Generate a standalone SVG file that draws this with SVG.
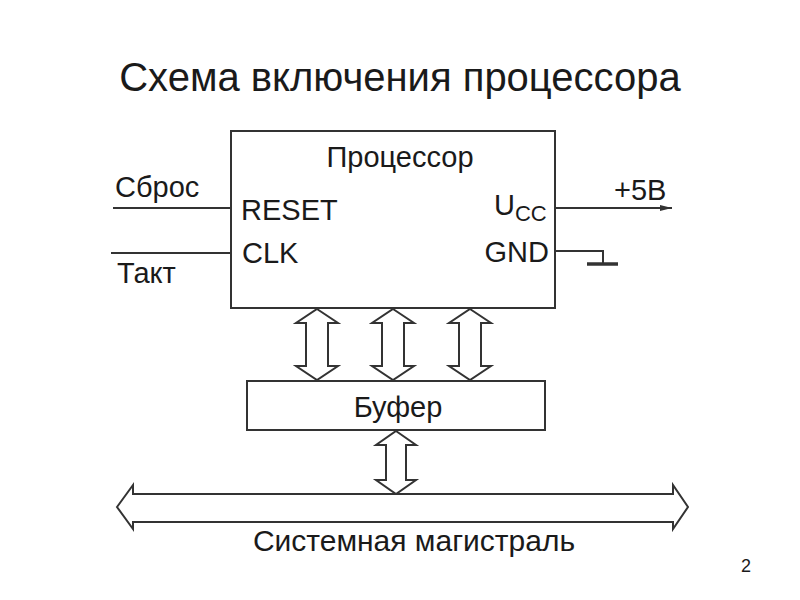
<svg xmlns="http://www.w3.org/2000/svg" width="800" height="600" viewBox="0 0 800 600">
<defs>
<style>
text{font-family:"Liberation Sans",Arial,sans-serif;fill:#1a1a1a}
.lbl{font-size:29px}
.box{fill:#fff;stroke:#333;stroke-width:2}
.wire{fill:none;stroke:#333;stroke-width:2}
.blk{fill:#fff;stroke:#333;stroke-width:2;stroke-linejoin:miter}
</style>
<marker id="ah" viewBox="0 0 12 8" refX="12" refY="4" markerWidth="12" markerHeight="8" markerUnits="userSpaceOnUse" orient="auto">
<path d="M0,1 L12,4 L0,7 Z" fill="#333"/>
</marker>
</defs>
<rect width="800" height="600" fill="#fff"/>
<text x="400" y="91" font-size="40" text-anchor="middle">Схема включения процессора</text>

<g id="processor">
<rect class="box" x="231" y="131" width="324" height="177"/>
<text class="lbl" x="400" y="167" text-anchor="middle">Процессор</text>
<text class="lbl" x="241" y="220">RESET</text>
<text class="lbl" x="242" y="263">CLK</text>
<text class="lbl" x="494" y="215">U<tspan font-size="22" dy="6">CC</tspan></text>
<text class="lbl" x="549" y="262" text-anchor="end">GND</text>
</g>

<g id="buffer">
<rect class="box" x="247" y="381" width="298" height="49"/>
<text class="lbl" x="398" y="417" text-anchor="middle">Буфер</text>
</g>

<g id="reset-in"><text class="lbl" x="115" y="197">Сброс</text></g>
<g id="clk-in"><text class="lbl" x="117" y="283">Такт</text></g>
<g id="vcc"><text class="lbl" x="614" y="200">+5В</text></g>
<g id="ground"><path d="M587,264 H618" stroke="#333" stroke-width="3.5"/></g>
<g id="bus"><text x="414" y="551" font-size="30" text-anchor="middle">Системная магистраль</text></g>

<g id="connectors">
<path class="wire" d="M113,208 H231"/>
<path class="wire" d="M111,253 H231"/>
<path class="wire" d="M555,208 H672" marker-end="url(#ah)"/>
<path class="wire" d="M555,251 H603 V264"/>
<polygon class="blk" points="317,309 338,323 328,323 328,366 338,366 317,380 296,366 306,366 306,323 296,323"/>
<polygon class="blk" points="393,309 414,323 404,323 404,366 414,366 393,380 372,366 382,366 382,323 372,323"/>
<polygon class="blk" points="470,309 491,323 481,323 481,366 491,366 470,380 449,366 459,366 459,323 449,323"/>
<polygon class="blk" points="396,431 416,445 406,445 406,480 416,480 396,494 376,480 386,480 386,445 376,445"/>
<polygon class="blk" points="117,507 133,485 133,494 673,494 673,485 688,507 673,529 673,522 133,522 133,529"/>
</g>
<text x="746" y="572" font-size="18" text-anchor="middle">2</text>
</svg>
